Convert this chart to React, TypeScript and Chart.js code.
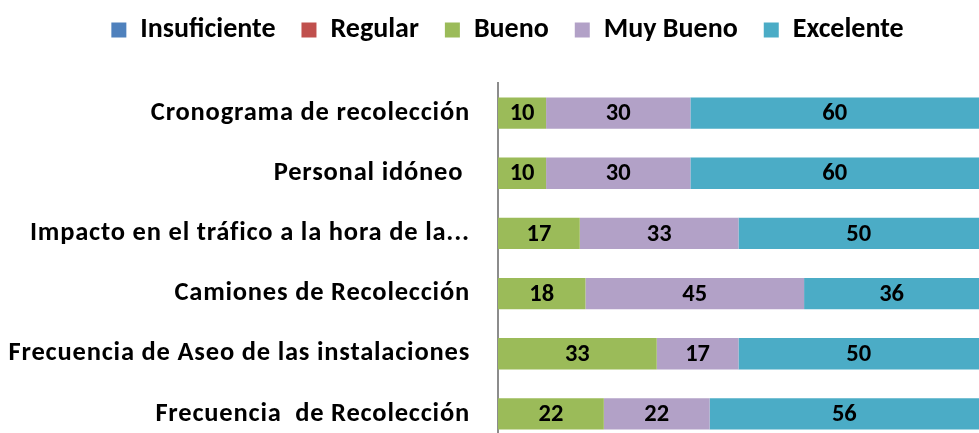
import React, { useEffect, useRef } from "react";
import { Chart, registerables } from "chart.js";

Chart.register(...registerables);

const categories = [
  "Cronograma de recolección",
  "Personal idóneo ",
  "Impacto en el tráfico a la hora de la...",
  "Camiones de Recolección",
  "Frecuencia de Aseo de las instalaciones",
  "Frecuencia  de Recolección",
];

const seriesNames = ["Insuficiente", "Regular", "Bueno", "Muy Bueno", "Excelente"];
const insuficiente = [0, 0, 0, 0, 0, 0];
const regular = [0, 0, 0, 0, 0, 0];
const bueno = [10, 10, 17, 18, 33, 22];
const muyBueno = [30, 30, 33, 45, 17, 22];
const excelente = [60, 60, 50, 36, 50, 56];
const seriesColors = ["#4F81BD", "#C0504D", "#9BBB59", "#B2A1C7", "#4BACC6"];

const FONT = "Carlito, Calibri, Lato, sans-serif";

const valueLabels = {
  id: "valueLabels",
  afterLayout(chart: any) {
    const y = chart.scales.y;
    if (y) {
      y.left = 0;
      if (!y.__patched) {
        const orig = y.drawLabels;
        y.drawLabels = function (area: any) {
          const ctx = this.ctx;
          ctx.save();
          try {
            ctx.letterSpacing = "0.8px";
          } catch (e) {}
          orig.call(this, area);
          ctx.restore();
        };
        y.__patched = true;
      }
    }
  },
  afterDatasetsDraw(chart: any) {
    const ctx = chart.ctx;
    ctx.save();
    ctx.font = `bold 24.5px ${FONT}`;
    ctx.fillStyle = "#000000";
    ctx.textAlign = "center";
    ctx.textBaseline = "middle";
    chart.data.datasets.forEach((ds: any, di: number) => {
      const meta = chart.getDatasetMeta(di);
      meta.data.forEach((el: any, i: number) => {
        const raw = ds.rawValues[i];
        if (!raw) return;
        const cx = (el.x + el.base) / 2;
        ctx.fillText(String(raw), cx, el.y + 1);
      });
    });
    ctx.restore();
  },
};

export default function App() {
  const ref = useRef<HTMLCanvasElement>(null);
  useEffect(() => {
    if (!ref.current) return;
    const all = [insuficiente, regular, bueno, muyBueno, excelente];
    const totals = categories.map((_, i) => all.reduce((s, arr) => s + arr[i], 0));
    const chart = new Chart(ref.current, {
      type: "bar",
      data: {
        labels: categories,
        datasets: all.map((arr, k) => ({
          label: seriesNames[k],
          data: arr.map((v, i) => (totals[i] ? (v / totals[i]) * 100 : 0)),
          rawValues: arr,
          backgroundColor: seriesColors[k],
          borderWidth: 0,
          barPercentage: 0.52,
          categoryPercentage: 1,
        })) as any,
      },
      options: {
        indexAxis: "y",
        animation: false,
        responsive: false,
        events: [],
        layout: { padding: { left: 36, right: 0, top: 0, bottom: 0 } },
        plugins: {
          tooltip: { enabled: false },
          legend: {
            position: "top",
            align: "center",
            labels: {
              boxWidth: 15,
              boxHeight: 15,
              padding: 26,
              color: "#000000",
              font: { family: FONT, size: 28, weight: "bold" },
            },
          },
        },
        scales: {
          x: {
            stacked: true,
            position: "top",
            min: 0,
            max: 100,
            ticks: { display: false },
            grid: { display: false, drawTicks: false },
            border: { display: false },
            title: { display: true, text: "", padding: { top: 0, bottom: 17 }, font: { size: 10 } },
          },
          y: {
            stacked: true,
            afterFit: (scale: any) => {
              scale.width = 462;
              scale.paddingTop = 0;
              scale.paddingBottom = 0;
            },
            ticks: {
              padding: 28,
              color: "#000000",
              font: { family: FONT, size: 26.5, weight: "bold" },
              autoSkip: false,
            },
            grid: { display: false, drawTicks: false },
            border: { display: true, color: "#8C8C8C", width: 2 },
          },
        },
      },
      plugins: [valueLabels],
    });
    return () => chart.destroy();
  }, []);
  return (
    <div style={{ position: "absolute", left: 0, top: 0, width: 979, height: 433, overflow: "hidden", background: "#fff" }}>
      <canvas ref={ref} width={979} height={454} style={{ position: "absolute", left: 0, top: -10, width: 979, height: 454, display: "block" }} />
    </div>
  );
}
